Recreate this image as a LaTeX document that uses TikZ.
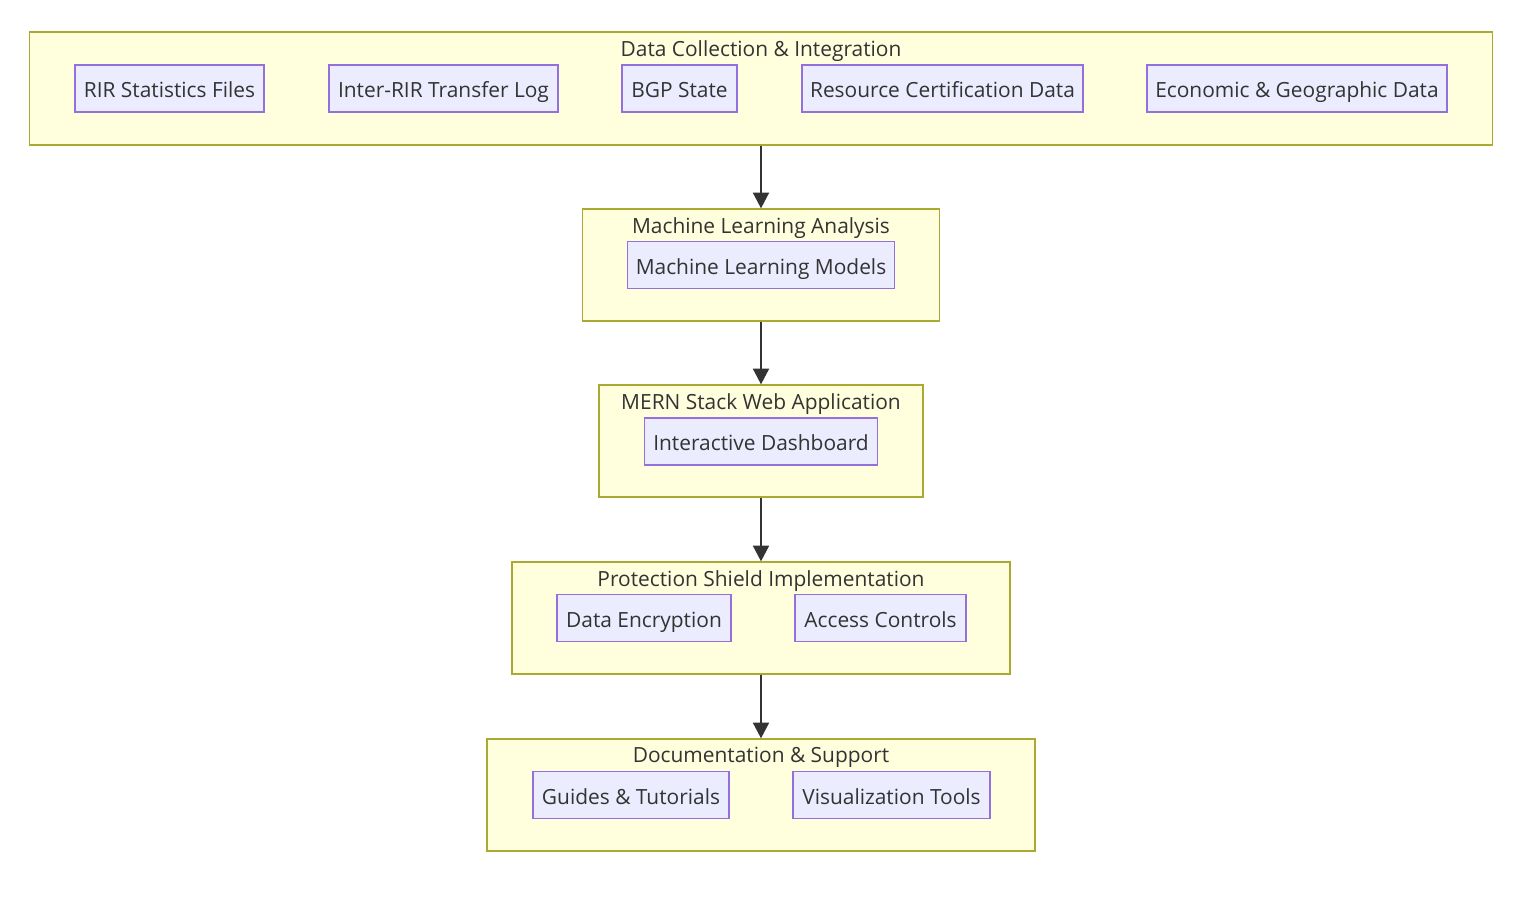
\documentclass[tikz,border=0pt]{standalone}
\usepackage{fontspec}
\setmainfont{Open Sans}
\usetikzlibrary{arrows.meta}
\definecolor{grpfill}{HTML}{FFFFDE}
\definecolor{grpline}{HTML}{AAAA33}
\definecolor{boxfill}{HTML}{ECECFF}
\definecolor{boxline}{HTML}{9370DB}
\definecolor{ink}{HTML}{333333}
\tikzset{
	grp/.style={draw=grpline, fill=grpfill, line width=0.7pt, inner sep=0pt},
	item/.style={draw=boxline, fill=boxfill, line width=0.7pt, inner sep=0pt, minimum height=0.94cm, text=ink, text height=2ex, text depth=0ex},
	title/.style={text=ink, inner sep=0pt, text height=2ex, text depth=0ex},
	arr/.style={draw=ink, line width=1.5pt, -{Triangle[length=9pt, width=9pt]}}
}

\begin{document}
\begin{tikzpicture}[x=0.02cm, y=-0.02cm, font=\fontsize{11.9}{14}\selectfont]
		%%%%% START %%%%%
		\useasboundingbox (0, 0) rectangle (1536, 904);
		
		\node[grp, minimum width=29.26cm, minimum height=2.26cm] (collect) at (761, 88.5) {};
		\node[title] (collectT) at (761, 47) {Data Collection \& Integration};
		\node[item, minimum width=3.78cm] (rir) at (169.5, 88.5) {RIR Statistics Files};
		\node[item, minimum width=4.58cm] (xfer) at (443.5, 88.5) {Inter-RIR Transfer Log};
		\node[item, minimum width=2.30cm] (bgp) at (679.5, 88.5) {BGP State};
		\node[item, minimum width=5.62cm] (rpki) at (942.5, 88.5) {Resource Certification Data};
		\node[item, minimum width=6.00cm] (econ) at (1297, 88.5) {Economic \& Geographic Data};
		
		\node[grp, minimum width=7.14cm, minimum height=2.24cm] (ml) at (761, 265) {};
		\node[title] (mlT) at (761, 224) {Machine Learning Analysis};
		\node[item, minimum width=5.34cm] (models) at (761, 265) {Machine Learning Models};
		
		\node[grp, minimum width=6.48cm, minimum height=2.24cm] (web) at (761, 441) {};
		\node[title] (webT) at (761, 400) {MERN Stack Web Application};
		\node[item, minimum width=4.66cm] (dash) at (761, 441.5) {Interactive Dashboard};
		
		\node[grp, minimum width=9.96cm, minimum height=2.24cm] (shield) at (761, 618) {};
		\node[title] (shieldT) at (761, 577) {Protection Shield Implementation};
		\node[item, minimum width=3.48cm] (enc) at (644, 618) {Data Encryption};
		\node[item, minimum width=3.42cm] (acl) at (880.5, 618) {Access Controls};
		
		\node[grp, minimum width=10.96cm, minimum height=2.24cm] (docs) at (761, 795) {};
		\node[title] (docsT) at (761, 753) {Documentation \& Support};
		\node[item, minimum width=3.92cm] (guides) at (631, 795) {Guides \& Tutorials};
		\node[item, minimum width=3.94cm] (viz) at (891.5, 795) {Visualization Tools};
		
		\draw[arr] (collect.south) -- (ml.north);
		\draw[arr] (ml.south) -- (web.north);
		\draw[arr] (web.south) -- (shield.north);
		\draw[arr] (shield.south) -- (docs.north);
		%%%%% END %%%%%
\end{tikzpicture}
\end{document}
